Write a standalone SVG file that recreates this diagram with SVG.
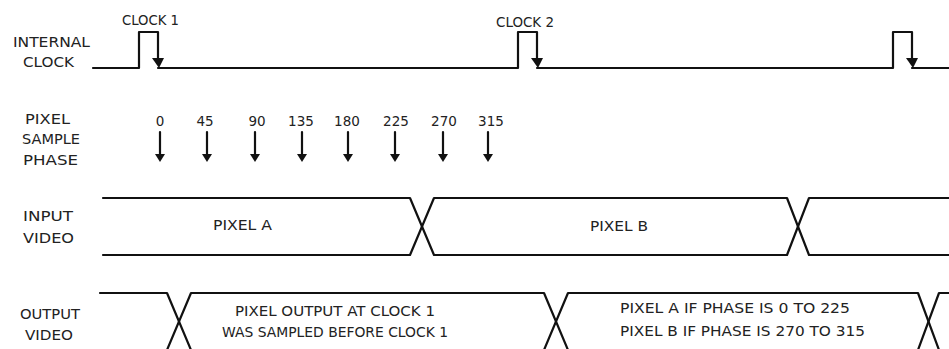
<svg xmlns="http://www.w3.org/2000/svg" width="949" height="349" viewBox="0 0 949 349">
<style>
text{font-family:"DejaVu Sans","Liberation Sans",sans-serif;font-size:13.5px;fill:#222;}
.w{fill:none;stroke:#111;stroke-width:2.2;stroke-linejoin:round;stroke-linecap:round;}
.s{stroke:#111;stroke-width:2.2;stroke-linecap:round;}
.h{fill:#111;}
</style>
<rect width="949" height="349" fill="#fff"/>
<g id="label-internal-clock">
<text x="13" y="47" textLength="77" lengthAdjust="spacingAndGlyphs">INTERNAL</text>
<text x="23" y="67" textLength="51" lengthAdjust="spacingAndGlyphs">CLOCK</text>
</g>
<g id="label-clock1"><text x="122" y="25" textLength="57" lengthAdjust="spacingAndGlyphs">CLOCK 1</text></g>
<g id="label-clock2"><text x="496" y="27" textLength="58" lengthAdjust="spacingAndGlyphs">CLOCK 2</text></g>
<g id="internal-clock">
<path class="w" d="M93,68 H139 V32 H158 V60 M158,68 H518 V32 H537 V60 M537,68 H893 V32 H912 V60 M912,68 H949"/>
<polygon class="h" points="152,58 164,58 159,68"/>
<polygon class="h" points="531,58 543,58 538,68"/>
<polygon class="h" points="906,58 918,58 913,68"/>
</g>
<g id="label-pixel-sample-phase">
<text x="25" y="124" textLength="45" lengthAdjust="spacingAndGlyphs">PIXEL</text>
<text x="22" y="144" textLength="58" lengthAdjust="spacingAndGlyphs">SAMPLE</text>
<text x="23" y="165" textLength="55" lengthAdjust="spacingAndGlyphs">PHASE</text>
</g>
<g id="phase-values" text-anchor="middle">
<text x="160" y="126">0</text>
<text x="205" y="126">45</text>
<text x="257" y="126">90</text>
<text x="301" y="126">135</text>
<text x="347" y="126">180</text>
<text x="396" y="126">225</text>
<text x="444" y="126">270</text>
<text x="491" y="126">315</text>
</g>
<g id="connectors">
<line class="s" x1="160" y1="132" x2="160" y2="155"/><polygon class="h" points="155,154 165,154 160,162"/>
<line class="s" x1="207" y1="132" x2="207" y2="155"/><polygon class="h" points="202,154 212,154 207,162"/>
<line class="s" x1="255" y1="132" x2="255" y2="155"/><polygon class="h" points="250,154 260,154 255,162"/>
<line class="s" x1="302" y1="132" x2="302" y2="155"/><polygon class="h" points="297,154 307,154 302,162"/>
<line class="s" x1="348" y1="132" x2="348" y2="155"/><polygon class="h" points="343,154 353,154 348,162"/>
<line class="s" x1="395" y1="132" x2="395" y2="155"/><polygon class="h" points="390,154 400,154 395,162"/>
<line class="s" x1="443" y1="132" x2="443" y2="155"/><polygon class="h" points="438,154 448,154 443,162"/>
<line class="s" x1="488" y1="132" x2="488" y2="155"/><polygon class="h" points="483,154 493,154 488,162"/>
</g>
<g id="label-input-video">
<text x="23" y="221" textLength="50" lengthAdjust="spacingAndGlyphs">INPUT</text>
<text x="23" y="243" textLength="51" lengthAdjust="spacingAndGlyphs">VIDEO</text>
</g>
<g id="input-video">
<path class="w" d="M103,198 H410 L434,255 H787 L809,198 H949"/>
<path class="w" d="M103,255 H410 L434,198 H787 L809,255 H949"/>
<text x="213" y="230" textLength="59" lengthAdjust="spacingAndGlyphs">PIXEL A</text>
<text x="590" y="231" textLength="58" lengthAdjust="spacingAndGlyphs">PIXEL B</text>
</g>
<g id="label-output-video">
<text x="20" y="319" textLength="60" lengthAdjust="spacingAndGlyphs">OUTPUT</text>
<text x="25" y="340" textLength="48" lengthAdjust="spacingAndGlyphs">VIDEO</text>
</g>
<g id="output-video">
<path class="w" d="M100,293 H167 L191,350 H544 L568,293 H918 L939,350 H949"/>
<path class="w" d="M100,350 H167 L191,293 H544 L568,350 H918 L939,293 H949"/>
<text x="235" y="316" textLength="200" lengthAdjust="spacingAndGlyphs">PIXEL OUTPUT AT CLOCK 1</text>
<text x="222" y="337" textLength="226" lengthAdjust="spacingAndGlyphs">WAS SAMPLED BEFORE CLOCK 1</text>
<text x="620" y="313" textLength="230" lengthAdjust="spacingAndGlyphs">PIXEL A IF PHASE IS 0 TO 225</text>
<text x="620" y="336" textLength="245" lengthAdjust="spacingAndGlyphs">PIXEL B IF PHASE IS 270 TO 315</text>
</g>
</svg>
